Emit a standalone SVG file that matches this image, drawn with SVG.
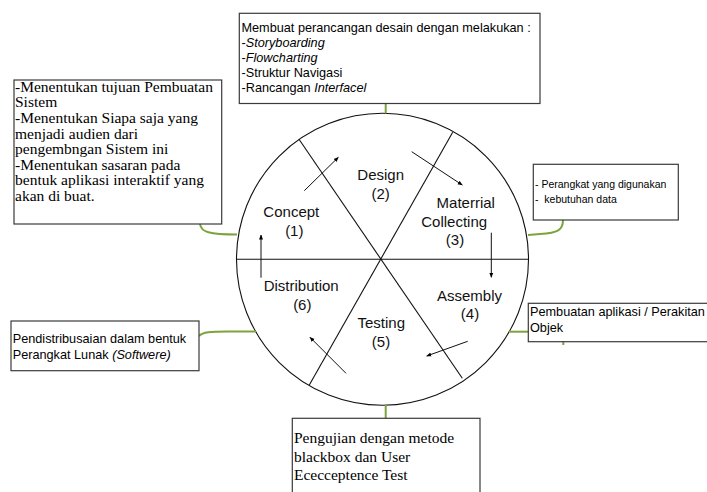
<svg xmlns="http://www.w3.org/2000/svg" width="707" height="492" viewBox="0 0 707 492">
  <defs>
    <marker id="arrow" viewBox="0 0 10 10" refX="9" refY="5" markerWidth="5" markerHeight="5" orient="auto" markerUnits="userSpaceOnUse">
      <path d="M0,1 L10,5 L0,9 z" fill="#000"/>
    </marker>
    <style>
      .note { fill: #fff; stroke: #3a3a3a; stroke-width: 1.2; }
      .wheel { fill: #fff; stroke: #111; stroke-width: 1.1; }
      .spoke { stroke: #111; stroke-width: 1.1; fill: none; }
      .flow { stroke: #111; stroke-width: 1; fill: none; marker-end: url(#arrow); }
      .link { stroke: #7ba43c; stroke-width: 2; fill: none; }
      .phase { font-family: "Liberation Sans", Arial, sans-serif; font-size: 15px; fill: #111; text-anchor: middle; }
      .sans { font-family: "Liberation Sans", Arial, sans-serif; fill: #000; white-space: pre; }
      .serif { font-family: "Liberation Serif", "Times New Roman", serif; font-size: 15.5px; fill: #000; }
      .it { font-style: italic; }
    </style>
  </defs>
  <rect width="707" height="492" fill="#fff"/>

  <!-- multimedia development wheel -->
  <g id="wheel">
    <circle class="wheel" cx="382.5" cy="259.3" r="146"/>
    <line class="spoke" x1="236.5" y1="259.3" x2="528.5" y2="259.3" stroke="#444"/>
    <line class="spoke" x1="299" y1="139.3" x2="462.3" y2="378.3"/>
    <line class="spoke" x1="452.7" y1="132.3" x2="309.3" y2="385"/>
  </g>

  <!-- green links between wheel and notes, and the phase flow arrows -->
  <g id="connectors">
    <path class="link" d="M385.7,103.5 L385.7,113.5"/>
    <path class="link" d="M385.7,405 L385.7,418"/>
    <path class="link" d="M200,224 C201,232 209,234.5 237,234.5"/>
    <path class="link" d="M563,220 C563,230 558,233 540,234 L528,235"/>
    <path class="link" d="M199,336 C203,332 210,331.5 228,331.5 L256,331.5"/>
    <path class="link" d="M509,331.7 L528.5,331.7"/>
    <path class="link" d="M563.3,341.7 L563.3,345"/>

    <line class="flow" x1="304.3" y1="190.7" x2="338.3" y2="157.3"/>
    <line class="flow" x1="411.7" y1="151.7" x2="462.3" y2="185"/>
    <line class="flow" x1="491.3" y1="232.7" x2="491.3" y2="277.3"/>
    <line class="flow" x1="467.7" y1="341.3" x2="426.7" y2="356"/>
    <line class="flow" x1="346" y1="373.3" x2="310" y2="337.3"/>
    <line class="flow" x1="261" y1="277.7" x2="261" y2="235"/>
  </g>

  <g id="concept">
    <text class="phase" x="291.3" y="217.3">Concept</text>
    <text class="phase" x="294.3" y="236">(1)</text>
  </g>
  <g id="design">
    <text class="phase" x="380.7" y="180.3">Design</text>
    <text class="phase" x="380.7" y="198.7">(2)</text>
  </g>
  <g id="material-collecting">
    <text class="phase" x="465.8" y="208.3">Materrial</text>
    <text class="phase" x="454.2" y="226.5">Collecting</text>
    <text class="phase" x="455" y="245">(3)</text>
  </g>
  <g id="assembly">
    <text class="phase" x="469.5" y="301">Assembly</text>
    <text class="phase" x="470" y="319.3">(4)</text>
  </g>
  <g id="testing">
    <text class="phase" x="381.3" y="328.3">Testing</text>
    <text class="phase" x="381" y="346.5">(5)</text>
  </g>
  <g id="distribution">
    <text class="phase" x="301.2" y="291.3">Distribution</text>
    <text class="phase" x="302.3" y="310">(6)</text>
  </g>

  <!-- notes -->
  <g id="note-design">
    <rect class="note" x="239.3" y="13.3" width="300.7" height="90.2"/>
    <text class="sans" font-size="12.7">
      <tspan x="241.5" y="32.3">Membuat perancangan desain dengan melakukan :</tspan>
      <tspan x="241.5" y="47">-<tspan class="it">Storyboarding</tspan></tspan>
      <tspan x="241.5" y="62">-<tspan class="it">Flowcharting</tspan></tspan>
      <tspan x="241.5" y="77">-Struktur Navigasi</tspan>
      <tspan x="241.5" y="92">-Rancangan <tspan class="it">Interfacel</tspan></tspan>
    </text>
  </g>

  <g id="note-concept">
    <rect class="note" x="14" y="80" width="207.7" height="144"/>
    <text class="serif">
      <tspan x="15" y="91.7">-Menentukan tujuan Pembuatan</tspan>
      <tspan x="15" y="107.3">Sistem</tspan>
      <tspan x="15" y="123">-Menentukan Siapa saja yang</tspan>
      <tspan x="15" y="138.6">menjadi audien dari</tspan>
      <tspan x="15" y="154.2">pengembngan Sistem ini</tspan>
      <tspan x="15" y="169.8">-Menentukan sasaran pada</tspan>
      <tspan x="15" y="185.4">bentuk aplikasi interaktif yang</tspan>
      <tspan x="15" y="201">akan di buat.</tspan>
    </text>
  </g>

  <g id="note-material">
    <rect class="note" x="533.3" y="164.3" width="145" height="55.7"/>
    <text class="sans" font-size="10.5">
      <tspan x="535" y="188.3">- Perangkat yang digunakan</tspan>
      <tspan x="535" y="203.3">-  kebutuhan data</tspan>
    </text>
  </g>

  <g id="note-assembly">
    <rect class="note" x="528.3" y="303.3" width="185" height="38.4"/>
    <text class="sans" font-size="12.7">
      <tspan x="530" y="315.5">Pembuatan aplikasi / Perakitan</tspan>
      <tspan x="530" y="331.7">Objek</tspan>
    </text>
  </g>

  <g id="note-distribution">
    <rect class="note" x="11" y="321" width="188" height="49.7"/>
    <text class="sans" font-size="12.7">
      <tspan x="12.7" y="343.3">Pendistribusaian dalam bentuk</tspan>
      <tspan x="12.7" y="358.5">Perangkat Lunak <tspan class="it">(Softwere)</tspan></tspan>
    </text>
  </g>

  <g id="note-testing">
    <rect class="note" x="292.3" y="418.3" width="187.7" height="80"/>
    <text class="serif">
      <tspan x="294" y="443.3">Pengujian dengan metode</tspan>
      <tspan x="294" y="461.7">blackbox dan User</tspan>
      <tspan x="294" y="480">Ececceptence Test</tspan>
    </text>
  </g>
</svg>
